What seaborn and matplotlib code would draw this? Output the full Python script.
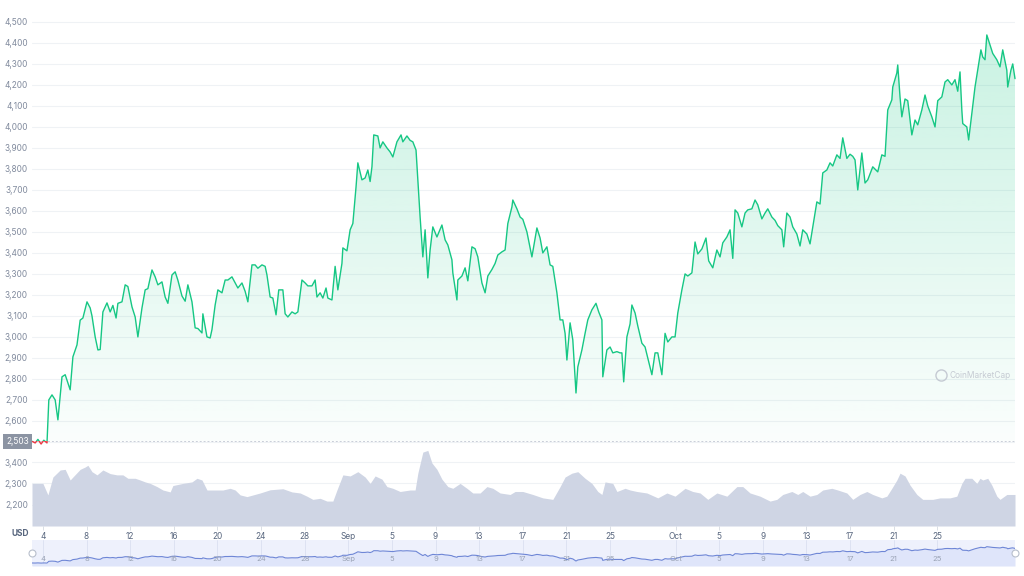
import numpy as np
import pandas as pd
import matplotlib
matplotlib.use("Agg")
import matplotlib.pyplot as plt
import matplotlib.dates as mdates
import matplotlib.transforms as mtransforms
from matplotlib.colors import ListedColormap
from matplotlib.patches import Rectangle
import seaborn as sns

# ---------------- data ----------------
START = pd.Timestamp("2021-08-03 00:00")
price_hours = [0,7,13,20,26,33,37,44,51,57,66,73,79,84,90,99,106,112,121,128,132,139,145,150,156,165,172,178,185,189,
               198,205,211,220,227,233,242,249,255,264,271,277,286,293,299,308,315,321,330,337,343,352,359,365,374,376,
               385,392,396,403,409,418,425,431,440,447,453,462,469,475,484,491,497,506,513,517,524,530,537,543,552,557,
               563,572,579,585,594,601,607,616,623,627,634,640,647,651,660,667,673,682,684,693,700,706,713,717,726,733,
               739,744,748,752,761,766,772,781,788,794,803,812,816,825,832,838,845,849,854,860,865,871,876,882,891,902,
               909,915,924,926,935,937,946,953,959,968,975,981,990,997,1003,1012,1019,1025,1034,1041,1047,1056,1058,1067,
               1074,1080,1089,1100,1111,1118,1124,1133,1140,1146,1155,1162,1168,1173,1177,1184,1190,1197,1201,1210,1217,
               1223,1232,1241,1247,1254,1256,1265,1272,1278,1287,1294,1298,1302,1309,1316,1320,1327,1333,1342,1349,1355,
               1364,1371,1377,1386,1393,1399,1408,1415,1421,1430,1437,1443,1452,1459,1465,1474,1483,1489,1498,1507,1514,
               1520,1529,1536,1542,1547,1553,1562,1569,1575,1584,1591,1597,1606,1613,1619,1628,1635,1641,1650,1654,1661,
               1668,1674,1683,1690,1696,1705,1712,1718,1727,1734,1740,1749,1756,1762,1771,1778,1784,1793,1800,1806,1811,
               1817,1826,1833,1839,1850,1861,1870,1877,1883,1892,1894,1903,1905,1910,1914,1921,1927,1936,1943,1949,1958,
               1965,1971,1980,1987,1993,2002,2009,2015,2024,2031,2037,2042,2046,2048,2057,2061,2068,2075,2081,2088,2092,
               2097,2101,2108,2114,2123,2130,2136,2145,2147,2154,2158,2163]
price_usd = [2503,2495,2512,2490,2508,2495,2700,2724,2700,2605,2810,2820,2780,2748,2905,2962,3080,3090,3167,3138,3100,
             3000,2938,2940,3119,3162,3119,3150,3090,3160,3167,3248,3240,3143,3095,3000,3138,3224,3230,3319,3286,3248,
             3262,3190,3160,3295,3310,3270,3195,3170,3248,3167,3043,3040,3019,3110,3000,2995,3035,3152,3224,3210,3271,
             3271,3286,3257,3233,3257,3217,3167,3343,3343,3327,3343,3336,3295,3190,3185,3105,3224,3224,3110,3095,3119,
             3110,3119,3271,3257,3243,3243,3271,3190,3210,3185,3233,3185,3176,3336,3224,3350,3424,3410,3510,3540,3714,
             3829,3748,3757,3795,3740,3810,3962,3957,3900,3929,3900,3881,3857,3929,3962,3929,3957,3936,3929,3890,3748,
             3571,3381,3510,3281,3414,3524,3476,3533,3462,3438,3367,3305,3176,3271,3290,3329,3267,3429,3420,3381,3257,
             3210,3290,3321,3350,3390,3405,3414,3540,3619,3652,3610,3571,3560,3500,3381,3519,3471,3400,3429,3343,3336,
             3210,3081,3081,3017,2890,3067,2986,2733,2857,2938,3017,3081,3129,3160,3119,3081,2810,2938,2952,2924,2930,
             2924,2924,2786,3000,3062,3152,3114,3052,2970,2952,2900,2820,2924,2924,2820,3017,2976,3000,3000,3114,3224,
             3300,3290,3305,3452,3395,3419,3471,3362,3329,3414,3381,3448,3476,3510,3374,3605,3590,3524,3590,3605,3610,
             3652,3629,3562,3590,3610,3571,3555,3530,3510,3429,3590,3571,3524,3490,3433,3510,3490,3443,3524,3643,3633,
             3781,3795,3829,3814,3867,3850,3948,3850,3870,3860,3843,3700,3876,3733,3748,3810,3786,3867,3860,4081,4129,
             4190,4257,4295,4143,4048,4133,4125,3962,4033,4010,4081,4152,4100,4048,4000,4125,4143,4214,4225,4200,4225,
             4170,4262,4081,4016,4000,3938,4062,4190,4271,4367,4333,4320,4438,4390,4350,4320,4286,4367,4270,4190,4270,
             4300,4230]

vol_hours = [0,24,35,46,62,73,84,90,106,117,123,132,143,156,172,187,200,211,227,238,249,260,275,288,304,310,332,352,
             363,374,385,407,420,436,447,458,473,502,524,552,572,590,605,618,634,649,662,671,684,700,717,733,744,755,
             770,781,794,810,832,843,849,860,871,880,891,902,915,926,942,957,970,986,1001,1014,1030,1052,1063,1080,
             1102,1124,1146,1162,1173,1188,1201,1217,1232,1245,1254,1261,1278,1287,1305,1316,1331,1353,1377,1397,1415,
             1437,1454,1470,1487,1507,1529,1551,1564,1580,1602,1624,1639,1652,1672,1685,1696,1712,1727,1740,1760,1773,
             1793,1806,1822,1837,1850,1870,1881,1892,1903,1910,1921,1932,1947,1960,1982,1998,2020,2035,2046,2053,2068,
             2079,2086,2092,2103,2112,2123,2130,2145,2163]
vol_10b = [2.0,2.0,1.46,2.3,2.63,2.66,2.16,2.3,2.66,2.77,2.85,2.55,2.4,2.63,2.46,2.4,2.4,2.24,2.24,2.16,2.07,2.0,1.85,
           1.69,1.6,1.9,2.0,2.07,2.24,2.16,1.69,1.69,1.69,1.77,1.69,1.46,1.38,1.55,1.7,1.75,1.6,1.55,1.4,1.25,1.3,1.17,
           1.17,1.69,2.4,2.35,2.55,2.3,2.0,2.35,2.2,1.85,1.77,1.62,1.69,1.69,2.48,3.47,3.55,2.96,2.66,2.2,1.85,1.77,2.0,
           1.77,1.55,1.55,1.85,1.77,1.55,1.48,1.62,1.62,1.48,1.32,1.25,1.85,2.3,2.48,2.55,2.24,2.0,1.62,1.48,2.07,2.0,
           1.62,1.77,1.69,1.62,1.55,1.32,1.55,1.4,1.77,1.62,1.55,1.25,1.55,1.4,1.85,1.85,1.55,1.4,1.17,1.25,1.48,1.62,
           1.48,1.62,1.4,1.48,1.69,1.77,1.69,1.55,1.25,1.48,1.62,1.48,1.32,1.4,1.77,2.16,2.48,2.35,1.92,1.48,1.25,1.25,
           1.32,1.32,1.4,2.0,2.24,2.24,2.0,2.24,2.16,2.24,1.92,1.4,1.25,1.48,1.48]

base_price = 2503
price_ticks = list(range(2500, 4501, 100))
vol_ticks = [1, 2, 3]
vol_tick_labels = ["2,200", "2,300", "3,400"]
tick_dates = ["2021-08-04", "2021-08-08", "2021-08-12", "2021-08-16", "2021-08-20", "2021-08-24", "2021-08-28",
              "2021-09-01", "2021-09-05", "2021-09-09", "2021-09-13", "2021-09-17", "2021-09-21", "2021-09-25",
              "2021-10-01", "2021-10-05", "2021-10-09", "2021-10-13", "2021-10-17", "2021-10-21", "2021-10-25"]
tick_labels = ["4", "8", "12", "16", "20", "24", "28", "Sep", "5", "9", "13", "17", "21", "25",
               "Oct", "5", "9", "13", "17", "21", "25"]

price_df = pd.DataFrame({"time": START + pd.to_timedelta(price_hours, unit="h"), "price": price_usd})
vol_df = pd.DataFrame({"time": START + pd.to_timedelta(vol_hours, unit="h"), "vol": vol_10b})
ticks = pd.to_datetime(tick_dates)

# ---------------- style ----------------
sns.set_theme(style="white")
plt.rcParams['font.family'] = ['Inter', 'DejaVu Sans']

GREEN = "#16c784"
RED = "#ea3943"
LABEL = "#808a9d"
GRID = "#eff2f5"

W, H = 1024, 576
fig = plt.figure(figsize=(W / 100, H / 100), dpi=100)
fig.patch.set_facecolor("white")


def box(l, t, r, b):
    return [l / W, 1 - b / H, (r - l) / W, (b - t) / H]


ax = fig.add_axes(box(32, 15, 1015, 448))
axv = fig.add_axes(box(32, 448, 1015, 526))
axn = fig.add_axes(box(32, 540, 1015, 566))

xmin, xmax = price_df["time"].min(), price_df["time"].max()

# ---------------- price panel ----------------
ylo, yhi = 2471, 4533
ax.set_xlim(xmin, xmax)
ax.set_ylim(ylo, yhi)
ax.set_yticks(price_ticks)
ax.yaxis.set_major_formatter(plt.FuncFormatter(lambda v, p: "" if v == 2500 else f"{int(v):,}"))
ax.tick_params(axis="y", length=0, pad=3, labelsize=6, labelcolor=LABEL)
ax.set_xticks([])
ax.grid(axis="y", color=GRID, lw=0.8)
ax.set_axisbelow(True)
for s in ax.spines.values():
    s.set_visible(False)

tnum = mdates.date2num(price_df["time"])
upper = np.maximum(price_df["price"].values, base_price)
poly = ax.fill_between(price_df["time"], base_price, upper, color="none", lw=0)
alphas = np.linspace(0.24, 0.02, 256)
rgba = np.zeros((256, 4))
rgba[:, 0] = 22 / 255
rgba[:, 1] = 199 / 255
rgba[:, 2] = 132 / 255
rgba[:, 3] = alphas
grad = np.linspace(0, 1, 256).reshape(-1, 1)
im = ax.imshow(grad, extent=[tnum.min(), tnum.max(), base_price, 4533], aspect="auto",
               cmap=ListedColormap(rgba), origin="upper", zorder=1, interpolation="bilinear")
im.set_clip_path(poly.get_paths()[0], transform=ax.transData)
ax.set_xlim(xmin, xmax)
ax.set_ylim(ylo, yhi)

ax.axhline(base_price, color="#c9ced8", lw=0.7, ls=(0, (2, 2)), zorder=2)

sns.lineplot(data=price_df, x="time", y="price", ax=ax, color=GREEN, lw=1.0, sort=False, estimator=None, zorder=3)
line_g = ax.lines[-1]
sns.lineplot(data=price_df, x="time", y="price", ax=ax, color=RED, lw=1.0, sort=False, estimator=None, zorder=3)
line_r = ax.lines[-1]
clip_up = Rectangle((tnum.min() - 5, base_price), 200, 5000, transform=ax.transData)
clip_dn = Rectangle((tnum.min() - 5, 0), 200, base_price, transform=ax.transData)
line_g.set_clip_path(clip_up)
line_r.set_clip_path(clip_dn)
ax.set_xlabel("")
ax.set_ylabel("")

ax.text(-0.003, base_price, f"{base_price:,}",
        transform=mtransforms.blended_transform_factory(ax.transAxes, ax.transData),
        ha="right", va="center", fontsize=6, color="white", zorder=5, clip_on=False,
        bbox=dict(boxstyle="square,pad=0.35", fc="#8c94a3", ec="none"))

# watermark
fig.text(949 / W, 1 - 375 / H, "CoinMarketCap", fontsize=6, color="#c5cad3", va="center", ha="left")
fig.lines.append(plt.Line2D([941 / W], [1 - 375 / H], transform=fig.transFigure, marker="o", ms=8,
                            mfc="none", mec="#c5cad3", mew=1.0, ls="none"))

# ---------------- volume panel ----------------
axv.fill_between(vol_df["time"], 0, vol_df["vol"], color="#cfd5e4", lw=0)
axv.set_xlim(xmin, xmax)
axv.set_ylim(0, 78 / 21.3)
axv.set_yticks(vol_ticks)
axv.set_yticklabels(vol_tick_labels)
axv.tick_params(axis="y", length=0, pad=3, labelsize=6, labelcolor=LABEL)
axv.grid(axis="y", color=GRID, lw=0.8)
axv.set_axisbelow(True)
axv.set_xticks(ticks)
axv.set_xticklabels(tick_labels)
axv.tick_params(axis="x", length=3, width=0.6, color="#d5d9e0", pad=1.5, labelsize=6, labelcolor="#58667e",
                bottom=True)
for s in axv.spines.values():
    s.set_visible(False)
fig.text(20 / W, 1 - 533 / H, "USD", fontsize=6, color="#58667e", fontweight="bold", ha="center", va="center")

# ---------------- navigator ----------------
axn.set_facecolor("#eef1fc")
axn.set_xlim(xmin, xmax)
nlo, nhi = 2144, 5231
axn.set_ylim(nlo, nhi)
for t in ticks:
    axn.axvline(t, color="#dde2f2", lw=0.7, zorder=0)
axn.fill_between(price_df["time"], nlo, price_df["price"], color="#dfe5fa", lw=0, zorder=1)
sns.lineplot(data=price_df, x="time", y="price", ax=axn, color="#6e86d6", lw=0.8, sort=False, estimator=None,
             zorder=2)
axn.set_xlabel("")
axn.set_ylabel("")
axn.set_xticks([])
axn.set_yticks([])
for t, lab in zip(ticks, tick_labels):
    axn.text(t, 0.28, lab, transform=mtransforms.blended_transform_factory(axn.transData, axn.transAxes),
             ha="center", va="center", fontsize=5.5, color="#9aa3b5", zorder=3)
for s in axn.spines.values():
    s.set_visible(False)
axn.plot([0, 1], [0.5, 0.5], transform=axn.transAxes, marker="o", ms=5, mfc="white", mec="#b8bfcc", mew=0.8,
         ls="none", clip_on=False, zorder=5)

fig.savefig("out.png", dpi=100, facecolor="white")
